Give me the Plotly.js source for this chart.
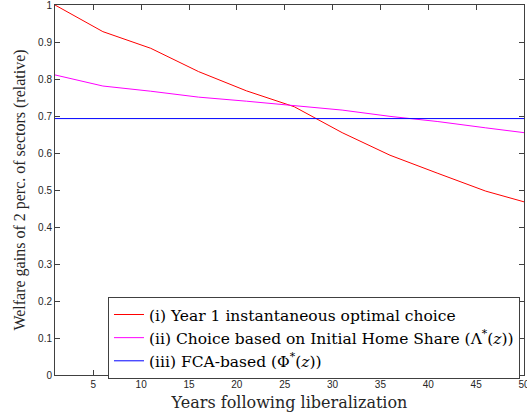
<!DOCTYPE html>
<html>
<head>
<meta charset="utf-8">
<script src="https://cdn.plot.ly/plotly-3.0.1.min.js"></script>
<style>html,body{margin:0;padding:0;background:#fff;}#plot{width:527px;height:417px;}</style>
</head>
<body>
<div id="plot"></div>
<script>
var years = [1, 6, 11, 16, 21, 26, 31, 36, 41, 46, 50];
var instantaneous = [1.0, 0.928, 0.883, 0.820, 0.768, 0.725, 0.655, 0.594, 0.545, 0.497, 0.468];
var homeShare = [0.811, 0.781, 0.767, 0.751, 0.740, 0.729, 0.716, 0.699, 0.685, 0.668, 0.655];
var fca = [0.693, 0.693, 0.693, 0.693, 0.693, 0.693, 0.693, 0.693, 0.693, 0.693, 0.693];
var names = [
  '(i) Year 1 instantaneous optimal choice',
  '(ii) Choice based on Initial Home Share (Λ<sup>*</sup>(<i>z</i>))',
  '(iii) FCA-based (Φ<sup>*</sup>(<i>z</i>))'
];
var xTicks = [5, 10, 15, 20, 25, 30, 35, 40, 45, 50];
var yTicks = [0, 0.1, 0.2, 0.3, 0.4, 0.5, 0.6, 0.7, 0.8, 0.9, 1];
var yTickText = ['0', '0.1', '0.2', '0.3', '0.4', '0.5', '0.6', '0.7', '0.8', '0.9', '1'];

var traces = [
  {x: years, y: instantaneous, name: names[0], mode: 'lines', line: {color: '#ff0000', width: 1}},
  {x: years, y: homeShare, name: names[1], mode: 'lines', line: {color: '#ff00ff', width: 1}},
  {x: years, y: fca, name: names[2], mode: 'lines', line: {color: '#0000ff', width: 1}}
];
var axisCommon = {
  showline: true, mirror: 'ticks', linecolor: '#404040', linewidth: 1,
  ticks: 'inside', ticklen: 5, tickcolor: '#404040', tickwidth: 1,
  showgrid: false, zeroline: false, ticklabeloverflow: 'allow',
  tickfont: {family: 'Liberation Sans, Arial, sans-serif', size: 10, color: '#262626'}
};
var layout = {
  width: 527, height: 417,
  margin: {l: 55, r: 3, t: 5, b: 42},
  paper_bgcolor: '#fff', plot_bgcolor: '#fff',
  showlegend: true,
  xaxis: Object.assign({}, axisCommon, {
    range: [1, 50], tickvals: xTicks,
    title: {text: 'Years following liberalization', standoff: 7,
      font: {family: 'DejaVu Serif, serif', size: 16, color: '#262626'}}
  }),
  yaxis: Object.assign({}, axisCommon, {
    range: [0, 1], tickvals: yTicks, ticktext: yTickText,
    title: {text: 'Welfare gains of 2 perc. of sectors (relative)', standoff: 8,
      font: {family: 'Liberation Serif, DejaVu Serif, serif', size: 16, color: '#262626'}}
  }),
  legend: {
    x: 0.113, y: 0.211, xanchor: 'left', yanchor: 'top',
    bgcolor: '#fff', bordercolor: '#404040', borderwidth: 1,
    font: {family: 'DejaVu Serif, serif', size: 15.5, color: '#000'},
    itemwidth: 30, tracegroupgap: 0
  }
};
Plotly.newPlot('plot', traces, layout, {displayModeBar: false, staticPlot: true});
</script>
</body>
</html>
